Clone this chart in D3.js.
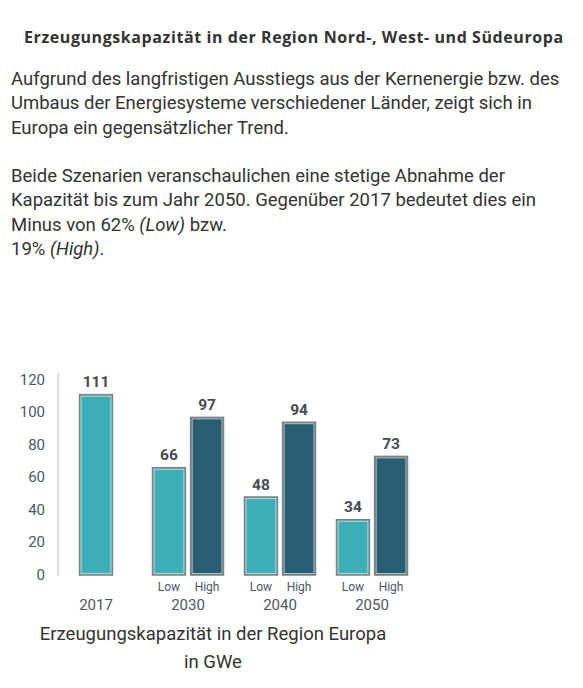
<html>
<head>
<meta charset="utf-8">
<script src="https://d3js.org/d3.v7.min.js"></script>
<style>
body { margin: 0; background: #fff; font-family: Roboto, "Open Sans", sans-serif; color: #333; }
#title { position: absolute; left: 24px; top: 26px; font-family: "Open Sans", sans-serif; font-size: 16px; font-weight: bold; color: #333; white-space: nowrap; letter-spacing: 0.58px; }
.para { position: absolute; left: 11px; font-size: 18.5px; line-height: 24.4px; color: #333; white-space: nowrap; }
svg { position: absolute; left: 0; top: 0; }
</style>
</head>
<body>
<div id="title">Erzeugungskapazität in der Region Nord-, West- und Südeuropa</div>
<div class="para" style="top:67px">Aufgrund des langfristigen Ausstiegs aus der Kernenergie bzw. des<br>Umbaus der Energiesysteme verschiedener Länder, zeigt sich in<br>Europa ein gegensätzlicher Trend.</div>
<div class="para" style="top:164px">Beide Szenarien veranschaulichen eine stetige Abnahme der<br>Kapazität bis zum Jahr 2050. Gegenüber 2017 bedeutet dies ein<br>Minus von 62% <i>(Low)</i> bzw.<br>19% <i>(High)</i>.</div>
<svg width="583" height="688"></svg>
<script>
// chart data
var years = ["2017", "2030", "2040", "2050"];
var scenarios = ["Low", "High"];
var base2017 = 111;
var lowValues = [66, 48, 34];
var highValues = [97, 94, 73];
var yTicks = [0, 20, 40, 60, 80, 100, 120];
var captionLines = ["Erzeugungskapazität in der Region Europa", "in GWe"];

var colors = { Low: "#3aafb6", High: "#275e72" };

var svg = d3.select("svg");

var x = d3.scaleBand().domain(years).range([50, 418]).paddingInner(0).paddingOuter(0);
var xs = d3.scaleBand().domain(scenarios).range([0, 72]).paddingInner(0.11);
var y = d3.scaleLinear().domain([0, 120]).range([574.5, 379.5]);

// flat table built from the arrays
var bars = [{ year: "2017", scen: null, value: base2017 }];
years.slice(1).forEach(function(yr, i) {
    bars.push({ year: yr, scen: "Low", value: lowValues[i] });
    bars.push({ year: yr, scen: "High", value: highValues[i] });
});

function barX(d) {
    var c = x(d.year) + x.bandwidth() / 2;
    if (d.scen == null) return c - xs.bandwidth() / 2;
    return c - 36 + xs(d.scen);
}

// y axis
var yAxis = svg.append("g")
    .attr("transform", "translate(58,0)")
    .call(d3.axisLeft(y).tickValues(yTicks).tickSize(0).tickPadding(13));
yAxis.select(".domain").attr("stroke", "#b8b8b8").attr("d", "M0," + (y(120) - 6) + "V" + (y(0) + 1));
yAxis.selectAll("text").attr("font-family", "Roboto, sans-serif").attr("font-size", 15).attr("fill", "#4d5866");

var g = svg.append("g");
g.selectAll("rect.bar")
    .data(bars)
    .enter()
    .append("rect")
    .attr("class", "bar")
    .attr("x", function(d) { return barX(d) + 0.5; })
    .attr("y", function(d) { return y(d.value) + 0.5; })
    .attr("width", xs.bandwidth() - 1)
    .attr("height", function(d) { return y(0) - y(d.value); })
    .attr("fill", function(d) { return d.scen == "High" ? colors.High : colors.Low; })
    .attr("stroke", "#808080")
    .attr("stroke-width", 1.5);

g.selectAll("rect.inner")
    .data(bars)
    .enter()
    .append("rect")
    .attr("class", "inner")
    .attr("x", function(d) { return barX(d) + 2; })
    .attr("y", function(d) { return y(d.value) + 2; })
    .attr("width", xs.bandwidth() - 4)
    .attr("height", function(d) { return y(0) - y(d.value) - 3; })
    .attr("fill", "none")
    .attr("stroke", "#d6e2e6")
    .attr("stroke-width", 0.8);

// value labels
g.selectAll("text.val")
    .data(bars)
    .enter()
    .append("text")
    .attr("class", "val")
    .attr("x", function(d) { return barX(d) + xs.bandwidth() / 2; })
    .attr("y", function(d) { return y(d.value) - 7; })
    .attr("text-anchor", "middle")
    .attr("font-family", "Roboto, sans-serif")
    .attr("font-weight", "bold")
    .attr("font-size", 15.5)
    .attr("fill", "#474b52")
    .text(function(d) { return d.value; });

// scenario labels
g.selectAll("text.scen")
    .data(bars.filter(function(d) { return d.scen != null; }))
    .enter()
    .append("text")
    .attr("class", "scen")
    .attr("x", function(d) { return barX(d) + xs.bandwidth() / 2; })
    .attr("y", 591)
    .attr("text-anchor", "middle")
    .attr("font-family", "Roboto, sans-serif")
    .attr("font-size", 12)
    .attr("fill", "#4d5866")
    .text(function(d) { return d.scen; });

// year labels
g.selectAll("text.year")
    .data(years)
    .enter()
    .append("text")
    .attr("class", "year")
    .attr("x", function(d) { return x(d) + x.bandwidth() / 2; })
    .attr("y", 610)
    .attr("text-anchor", "middle")
    .attr("font-family", "Roboto, sans-serif")
    .attr("font-size", 15)
    .attr("fill", "#4d5866")
    .text(function(d) { return d; });

// caption
svg.selectAll("text.cap")
    .data(captionLines)
    .enter()
    .append("text")
    .attr("class", "cap")
    .attr("x", 213)
    .attr("y", function(d, i) { return 640 + i * 28; })
    .attr("text-anchor", "middle")
    .attr("font-family", "Roboto, sans-serif")
    .attr("font-size", 18.5)
    .attr("fill", "#333")
    .text(function(d) { return d; });
</script>
</body>
</html>
